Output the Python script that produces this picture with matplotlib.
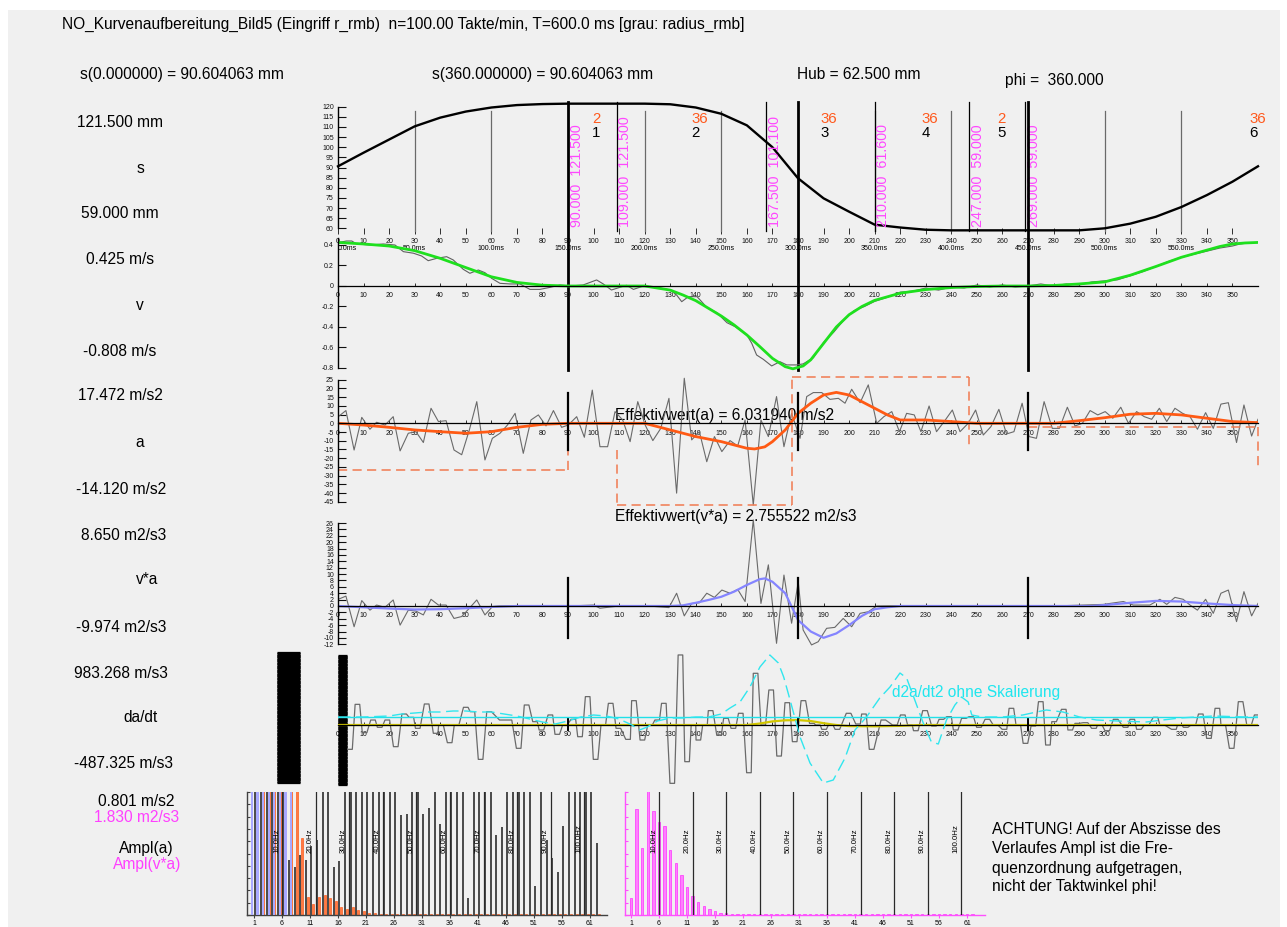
import numpy as np
import matplotlib
matplotlib.use('Agg')
import matplotlib.pyplot as plt
from matplotlib import transforms
from matplotlib.patches import Rectangle

plt.rcParams['font.family'] = ['Liberation Sans', 'DejaVu Sans']

# ---------------------------------------------------------------- data
n_takte = 100.0          # Takte/min
T_ms = 600.0             # ms per cycle

phi_ticks = list(range(0, 360, 10))
ms_phi = list(range(0, 360, 30))

# s (cam stroke)
phi_s = [0, 10, 20, 30, 40, 50, 60, 70, 80, 90, 100, 110, 120, 130, 140, 150, 160, 170, 180,
         190, 200, 210, 220, 230, 240, 250, 260, 270, 280, 290, 300, 310, 320, 330, 340, 350, 360]
s_mm = [90.6, 97.3, 103.8, 110.3, 114.6, 117.6, 119.6, 120.8, 121.3, 121.5, 121.5, 121.5, 121.5,
        121.2, 119.6, 116.5, 110.8, 100.0, 84.7, 74.8, 68.2, 61.8, 60.4, 59.3, 59.0, 59.0, 59.0,
        59.0, 59.0, 59.0, 60.0, 62.3, 65.7, 70.5, 76.4, 83.0, 90.6]

# v smooth (green)
phi_v = [0, 10, 20, 30, 40, 50, 60, 70, 80, 90, 100, 110, 120, 130, 135, 140, 145, 150, 155, 160,
         165, 170, 175, 178, 182, 185, 190, 195, 200, 205, 210, 220, 230, 240, 250, 260, 270, 280,
         290, 300, 310, 320, 330, 340, 345, 350, 355, 360]
v_smooth = [0.425, 0.41, 0.39, 0.345, 0.27, 0.18, 0.09, 0.035, 0.008, 0.0, 0.0, 0.0, 0.0, -0.04,
            -0.088, -0.143, -0.218, -0.293, -0.38, -0.478, -0.59, -0.706, -0.787, -0.808, -0.78,
            -0.72, -0.56, -0.40, -0.28, -0.20, -0.14, -0.07, -0.035, -0.015, -0.005, 0.0, 0.0,
            0.005, 0.02, 0.04, 0.105, 0.19, 0.28, 0.35, 0.385, 0.41, 0.42, 0.425]

# v measured (gray)
phi_vg = [0, 3.3, 5.4, 7.3, 12.5, 17.7, 22.3, 25.6, 29.5, 32.7, 35.3, 38.6, 42.5, 45.1, 49, 51.6,
          54.9, 57.5, 60.1, 63.4, 67.3, 71.2, 75.1, 79, 83, 86.9, 90.8, 95.9, 101.2, 103.8, 107,
          110.3, 112.9, 115.6, 119.5, 124.7, 130, 132.5, 134.5, 137.1, 140.5, 144.3, 148.2, 152.2,
          155.4, 160, 161.9, 163.8, 166.4, 169.7, 172.9, 175.6, 179.5, 182, 186, 190, 194, 198,
          202, 206, 210, 215, 220, 225, 230, 235, 240, 245, 250, 255, 260, 265, 270, 275, 280,
          285, 290, 295, 300, 305, 310, 315, 320, 325, 330, 335, 340, 345, 350, 353, 356, 360]
v_gray = [0.423, 0.439, 0.439, 0.41, 0.40, 0.41, 0.40, 0.335, 0.32, 0.293, 0.247, 0.27, 0.286,
          0.254, 0.163, 0.124, 0.156, 0.13, 0.075, 0.026, 0.02, 0.02, -0.033, -0.033, -0.013, 0.01,
          0.0, 0.01, 0.059, 0.02, -0.039, -0.013, 0.007, -0.033, 0.0, -0.013, -0.039, -0.088,
          -0.153, -0.104, -0.104, -0.208, -0.26, -0.358, -0.397, -0.478, -0.559, -0.673, -0.715,
          -0.78, -0.738, -0.77, -0.77, -0.76, -0.70, -0.55, -0.45, -0.33, -0.24, -0.20, -0.15,
          -0.11, -0.06, -0.05, -0.02, -0.04, -0.01, -0.02, 0.01, -0.01, 0.01, -0.01, 0.0, 0.02,
          0.0, 0.02, 0.01, 0.04, 0.05, 0.06, 0.10, 0.14, 0.19, 0.24, 0.28, 0.31, 0.34, 0.37, 0.39,
          0.41, 0.42, 0.425]

# a measured (gray)
phi_a = [0.1, 3.1, 6.3, 9.3, 12.5, 15.1, 18.4, 21.6, 24.3, 27.5, 30.5, 33.4, 36.4, 39.3, 42.3,
         45.4, 48.4, 51.4, 54.3, 57.5, 60.4, 63.4, 66.3, 69.3, 72.5, 75.5, 78.4, 81.4, 84.3, 87.5,
         90.1, 93.4, 96.4, 99.5, 102.5, 105.5, 108.4, 111.4, 114.3, 117.3, 120.2, 123.2, 126.3,
         129.5, 132.5, 135.5, 138.4, 141.4, 144.3, 147.3, 150.2, 153.4, 156.4, 159.3, 162.5,
         165.5, 168.4, 171.6, 174.5, 177.5, 180.8, 183.4, 186, 189.3, 192.5, 195.8, 198.4, 201,
         204.3, 207.5, 210.8, 213.6, 216.7, 219.7, 222.5, 225.5, 228.1, 231.3, 234.2, 237.2,
         240.4, 243.4, 246.6, 249.5, 252.5, 255.5, 258.6, 261.6, 264.5, 267.7, 270.4, 273.3,
         276.3, 279.5, 282.3, 285.4, 288.4, 291.3, 294.3, 297.3, 300.2, 303.2, 306.3, 309.3,
         312.5, 315.5, 318.4, 321.4, 324.3, 327.5, 330.5, 333.4, 336.3, 339.5, 342.5, 345.5,
         348.4, 351.6, 354.5, 357.5, 360]
a_gray = [3.8, 7.3, -15.3, 3.4, -3.4, 0.6, -1.0, 3.8, -15.8, -5.7, -4.8, -11.0, 8.6, 1.0, 1.5,
          -15.3, -18.0, -3.8, 12.4, -21.0, -8.6, -5.7, -1.0, 5.7, -17.2, 1.9, 4.8, -1.5, 7.3, -2.3,
          -1.0, 3.8, -8.0, 19.0, -13.4, -13.4, 6.7, 1.9, -10.5, 12.4, -1.0, -9.9, -2.9, 14.3,
          -40.0, 25.8, -9.5, -4.8, -22.0, -7.6, -16.2, -9.9, -13.0, 1.9, -46.8, 1.9, -7.6, 15.3,
          -13.4, 5.7, -8.6, 15.3, 17.6, 17.6, 13.7, 14.3, 11.5, 19.5, 11.8, 22.0, 0.0, 3.8, 6.7,
          -4.8, 5.7, 4.8, -4.8, 9.9, -4.8, 1.0, 7.6, -4.8, 0.0, 7.6, -6.7, -1.9, 8.0, -6.1, -4.8,
          11.5, -7.6, -8.6, 12.4, -2.9, -2.9, 9.2, -1.5, 0.0, 7.3, 4.8, 6.7, 2.9, 9.2, 0.0, 6.7,
          3.8, 2.3, 8.6, 1.0, 8.6, 5.7, 3.8, -3.4, 6.1, -2.9, 11.0, 11.8, -11.0, 10.5, -7.3, 2.3]

# a smooth (orange)
phi_af = [0, 10, 20, 30, 40, 50, 60, 70, 80, 90, 100, 110, 120, 130, 140, 150, 160, 163, 167,
          170, 175, 180, 185, 190, 195, 200, 205, 210, 215, 220, 230, 240, 250, 260, 270, 280,
          290, 300, 310, 320, 330, 340, 350, 360]
a_smooth = [0, -1.0, -2.3, -3.8, -4.8, -5.7, -4.8, -2.3, -0.6, 0, 0, 0, 0, -3.8, -7.6, -10.5,
            -14.3, -14.7, -13.5, -10.5, -3.8, 5.7, 11.5, 16.2, 17.7, 16.2, 12.4, 8.6, 4.8, 1.9,
            1.9, 1.0, 0, 0, 0, 0, 1.5, 3.2, 5.2, 5.7, 4.8, 2.9, 1.0, 0.4]

# dashed segment levels in the a panel
a_box_bounds = [0, 90, 109, 177.5, 247, 270, 360]
a_box_levels = [-26.6, -15.5, -47.0, 26.3, -14.5, -2.0]
a_box_drawn = [True, False, True, True, False, True]

# v*a measured (gray)
phi_va = [0.1, 3.1, 6.3, 9.3, 12.5, 15.1, 18.4, 21.6, 24.3, 27.5, 30.5, 33.4, 36.4, 39.3, 42.3,
          45.4, 48.4, 51.4, 54.3, 57.5, 60.4, 63, 70, 80, 90, 100, 102.5, 110, 120, 129.5, 132.5,
          135.5, 138.4, 141.4, 144.3, 147.3, 150.2, 153.4, 156.4, 159.3, 162.5, 165.5, 168.4,
          171.6, 174.5, 177.5, 180.1, 182, 185.3, 187.9, 191.2, 194.4, 197.7, 201, 204.3, 207.5,
          210.8, 220, 240, 260, 280, 299.4, 307.3, 311.2, 317.7, 321.6, 324.3, 327.5, 330.7,
          333.4, 336.3, 339.5, 342.5, 345.5, 348.4, 351.6, 354.5, 357.5, 360]
va_gray = [2.1, 3.1, -6.5, 1.7, -1.3, 0.3, -0.4, 1.9, -6.0, -1.3, -1.6, -2.8, 2.1, 0.3, 0.3,
           -3.9, -3.3, -0.7, 1.9, -2.8, -0.2, 0.0, 0.1, -0.1, 0.0, 0.3, -0.7, 0.0, 0.1, -0.5, 4.0,
           -3.1, 0.8, 1.0, 4.0, 2.7, 5.0, 4.0, 5.2, 1.4, 27.0, 0.8, 12.9, -11.7, 9.7, -5.4, 7.6,
           -7.5, -12.2, -11.2, -7.0, -6.7, -3.9, -6.5, -2.3, -1.8, 0.0, 0.1, 0.0, 0.1, 0.0, 0.5,
           1.4, 0.3, 0.3, 2.1, 0.5, 2.7, 2.1, 0.3, -1.3, 2.1, -2.3, 4.0, 5.0, -4.9, 4.5, -3.1, 0.8]

# v*a smooth (blue)
phi_vaf = [0, 10, 20, 30, 40, 50, 60, 70, 130, 135, 140, 145, 150, 155, 160, 165, 167, 170, 175,
           178, 180, 185, 190, 195, 200, 205, 210, 215, 220, 295, 300, 310, 320, 330, 340, 350, 360]
va_smooth = [0, -0.4, -0.8, -1.1, -1.0, -0.7, -0.3, 0, 0, 0.2, 1.0, 1.9, 2.9, 4.5, 6.6, 8.4, 8.65,
             7.6, 4.0, -1.0, -4.4, -8.0, -9.97, -8.6, -6.0, -3.1, -1.0, -0.4, 0, 0, 0.3, 1.0, 1.6,
             1.4, 0.8, 0.3, 0]

# da/dt measured (gray, held samples)
phi_da = [4.7, 7.6, 10.4, 13.7, 16.3, 19.3, 22.6, 25.9, 28.7, 31.2, 34.7, 38.2, 40.3, 43.7, 46.4,
          50.0, 52.6, 55.8, 59.1, 64.1, 67.1, 70.7, 73.8, 77.1, 79.6, 83.1, 85.8, 88.8, 92.1, 94.7,
          97.7, 100.8, 103.8, 106.7, 109.7, 113.5, 115.8, 119.1, 122.1, 124.9, 127.5, 130.8,
          134.0, 136.6, 139.1, 141.0, 143.6, 145.8, 149.1, 151.8, 154.7, 157.6, 160.8, 163.4,
          166.4, 169.5, 172.6, 175.8, 178.7, 182.1, 185.4, 187.8, 190.2, 192.8, 195.4, 199.8,
          203.5, 205.8, 208.8, 213.4, 217.9, 221, 223.8, 226.1, 229.7, 233.2, 236.1, 239.1, 241.7,
          244.9, 247.8, 250.8, 254.1, 257.3, 260.8, 263.5, 266.2, 269, 272.1, 275, 277.8, 280.2,
          284, 286.5, 289.3, 292.5, 295.8, 298.1, 301, 304.3, 308.2, 310.8, 313.4, 316.4, 319.9,
          322.5, 327.1, 329.4, 331.7, 334.7, 337.6, 340.8, 344.1, 346.4, 349.7, 353.2, 356.5,
          359.5]
da_gray = [-337, 286, -106, 69, -32, 69, -300, 152, 106, -46, 291, -115, 0, -245, 0, 245, 185,
           -476, 185, 69, 69, -323, 277, 46, -69, 139, -129, 0, 79, -162, 393, -476, 0, 300, -46,
           -199, 337, -208, 0, 69, 300, -808, 970, -508, 0, -208, 0, 199, -139, 92, -46, 162,
           -661, 716, 0, 485, -430, 309, -231, 337, 23, 0, -60, 0, -60, 162, 14, 152, -337, 69, 0,
           139, 0, -79, 199, -14, 79, 115, -69, 92, 115, -32, 79, 0, -60, 231, 0, -254, -14, 323,
           -277, 46, 217, -69, 23, 32, -46, 0, -79, 79, -32, 79, -60, 0, 106, 0, -60, 0, -32, 0,
           152, -185, 231, 0, -323, 323, 0, 139]
da_hold = 0.9   # half width (deg) of each held sample plateau

# da/dt smooth (yellow)
phi_y = [0, 160, 165, 170, 175, 180, 185, 190, 195, 200, 210, 220, 228, 360]
da_smooth = [0, 0, 20, 50, 65, 68, 55, 25, 0, -15, -18, -12, 0, 0]

# d2a/dt2 (cyan, unscaled)
phi_d2 = [0, 10, 20, 25, 30, 35, 40, 45, 50, 55, 60, 65, 70, 75, 80, 85, 90, 95, 100, 105, 110,
          115, 118, 121, 125, 130, 135, 140, 145, 150, 153.4, 157.3, 161.2, 165.1, 169, 172.3,
          174.4, 176.9, 180.8, 184.7, 189.9, 193.8, 198.4, 202.3, 206.8, 212, 216, 219.9, 222.5,
          225.7, 229, 232.2, 234.9, 238.1, 241.4, 244, 246.6, 248, 252, 260, 268, 273.3, 277.2,
          283.7, 290.2, 296.8, 305, 316.3, 329.3, 342.4, 355.4, 360]
d2a = [0, 0, 1, 3, 4, 5, 5, 6, 6, 5, 5, 3, 1, -2, -5, -7, -4, 0, 2, 1, -2, -8, -13, -10, -4, -1,
       -1, 0, 0, 3, 9, 15, 30, 50, 62, 54, 40, 17, -20, -46, -66, -63, -41, -13, 0, 19, 30, 44,
       39, 17, -6, -25, -27, -3, 12, 20, 15, 2, 0, 0, 2, 5, 7, 5, 0, -3, -4, -5, -1, 1, 0, 0]

# markers / segments
quarter_phi = [90, 180, 270]
grid30_phi = [30, 60, 120, 150, 210, 240, 300, 330]
seg_bounds = [90, 109, 167.5, 210, 247, 269, 450]
seg_s = [121.5, 121.5, 101.1, 61.6, 59.0, 59.0]
seg_counts = [2, 36, 36, 36, 2, 36]

# order spectra
orders = np.arange(1, 63)
order_ticks = [1, 6, 11, 16, 21, 26, 31, 36, 41, 46, 51, 56, 61]
hz_marks = [10, 20, 30, 40, 50, 60, 70, 80, 90, 100]
blue_orders = np.arange(1, 9)
ampl_blue = [0.9, 0.9, 0.9, 0.9, 0.9, 0.9, 0.9, 0.9]
ampl_gray = [0.9, 0.9, 0.9, 0.9, 0.9, 0.9, 0.36, 0.31, 0.39, 0.36, 0.45, 0.49, 0.9, 0.9, 0.31,
             0.35, 0.9, 0.9, 0.9, 0.9, 0.9, 0.9, 0.9, 0.9, 0.9, 0.9, 0.65, 0.66, 0.9, 0.9, 0.66,
             0.70, 0.9, 0.59, 0.9, 0.9, 0.9, 0.9, 0.11, 0.9, 0.9, 0.9, 0.9, 0.52, 0.57, 0.9, 0.9,
             0.9, 0.9, 0.9, 0.19, 0.9, 0.49, 0.37, 0.28, 0.58, 0.9, 0.9, 0.9, 0.9, 0.9, 0.47]
ampl_a = [0.9, 0.9, 0.9, 0.9, 0.9, 0.9, 0.9, 0.9, 0.50, 0.12, 0.07, 0.12, 0.13, 0.11, 0.09, 0.05,
          0.04, 0.05, 0.03, 0.025, 0.015, 0.01, 0.008, 0.007, 0.006, 0.007, 0.006, 0.008, 0.006,
          0.005, 0.006, 0.005, 0.006, 0.005, 0.006, 0.005, 0.006, 0.005, 0.006, 0.005, 0.005,
          0.006, 0.005, 0.005, 0.006, 0.005, 0.005, 0.005, 0.006, 0.005, 0.005, 0.005, 0.005,
          0.005, 0.005, 0.005, 0.005, 0.005, 0.005, 0.005, 0.005, 0.005]
ampl_va = [0.26, 1.57, 1.0, 2.0, 1.55, 1.39, 1.32, 0.97, 0.77, 0.60, 0.42, 0.29, 0.20, 0.13,
           0.09, 0.055, 0.037, 0.025, 0.02, 0.018, 0.016, 0.015, 0.014, 0.013, 0.012, 0.012,
           0.011, 0.011, 0.011, 0.010, 0.010, 0.010, 0.010, 0.010, 0.010, 0.010, 0.010, 0.010,
           0.010, 0.010, 0.010, 0.010, 0.010, 0.010, 0.010, 0.010, 0.010, 0.010, 0.010, 0.010,
           0.010, 0.010, 0.010, 0.010, 0.010, 0.010, 0.010, 0.010, 0.010, 0.010, 0.010, 0.010]

title = ("NO_Kurvenaufbereitung_Bild5 (Eingriff r_rmb)  n=100.00 Takte/min, "
         "T=600.0 ms [grau: radius_rmb]")
left_labels = [
    (120, 122, '121.500 mm', 'black'), (140, 168, 's', 'black'),
    (120, 213, '59.000 mm', 'black'), (120, 259, '0.425 m/s', 'black'),
    (140, 306, 'v', 'black'), (120, 351, '-0.808 m/s', 'black'),
    (120, 396, '17.472 m/s2', 'black'), (140, 442, 'a', 'black'),
    (121, 489, '-14.120 m/s2', 'black'), (124, 535, '8.650 m2/s3', 'black'),
    (147, 580, 'v*a', 'black'), (121, 627, '-9.974 m2/s3', 'black'),
    (121, 673, '983.268 m/s3', 'black'), (140, 718, 'da/dt', 'black'),
    (123, 764, '-487.325 m/s3', 'black'), (136, 802, '0.801 m/s2', 'black'),
    (137, 818, '1.830 m2/s3', '#ff40ff'), (146, 848, 'Ampl(a)', 'black'),
    (147, 864, 'Ampl(v*a)', '#ff40ff'),
]
achtung = ["ACHTUNG! Auf der Abszisse des", "Verlaufes Ampl ist die Fre-",
           "quenzordnung aufgetragen,", "nicht der Taktwinkel phi!"]

# ---------------------------------------------------------------- figure
W, H = 1287, 927
fig = plt.figure(figsize=(W / 100, H / 100), dpi=100)
fig.patch.set_facecolor('white')


def px_axes(x0, y0, x1, y1, z=1):
    ax = fig.add_axes([x0 / W, 1 - y1 / H, (x1 - x0) / W, (y1 - y0) / H], zorder=z)
    ax.patch.set_alpha(0)
    return ax


ov = px_axes(0, 0, W, H, z=0)
ov.set_xlim(0, W)
ov.set_ylim(H, 0)
ov.axis('off')
ov.add_patch(Rectangle((8, 10), 1272, 917, facecolor='#f0f0f0', edgecolor='none'))

X0, X1 = 338, 1258
BIG = 11.2
TICK = 5.0


def blend(ax):
    return transforms.blended_transform_factory(ax.transData, ov.transData)


def phi_panel(ytop, ybot, zero_px, scale):
    ax = px_axes(X0, ytop, X1, ybot)
    ax.set_xlim(0, 360)
    ax.set_ylim((zero_px - ybot) / scale, (zero_px - ytop) / scale)
    ax.spines['top'].set_visible(False)
    ax.spines['right'].set_visible(False)
    ax.set_xticks(phi_ticks)
    ax.set_xticklabels([str(p) for p in phi_ticks])
    ax.tick_params(axis='x', labelsize=TICK, direction='in', length=2.0, width=0.6,
                   pad=4.6, colors='#111111')
    ax.tick_params(axis='y', labelsize=TICK, direction='in', length=5.8, width=0.8,
                   pad=3, colors='#111111')
    ax.spines['left'].set_linewidth(1.0)
    ax.spines['bottom'].set_position(('data', 0))
    ax.spines['bottom'].set_linewidth(0.9)
    return ax


# ---------------- s panel
ax_s = phi_panel(100, 232, 349.94, 2.027)
ax_s.spines['bottom'].set_position(('data', 58.68))
ax_s.spines['bottom'].set_visible(False)
ax_s.tick_params(axis='x', direction='inout', length=5, pad=2.6)
ax_s.spines['left'].set_bounds(60, 120)
ax_s.set_yticks(list(range(60, 121, 5)))
ax_s.set_yticklabels([str(v) for v in range(60, 121, 5)])
bs = blend(ax_s)
for p in grid30_phi:
    ax_s.plot([p, p], [110.7, 231], transform=bs, color='#6a6a6a', lw=0.9, clip_on=False)
for b in seg_bounds[1:6]:
    ax_s.plot([b, b], [101.7, 231], transform=bs, color='black', lw=0.9, clip_on=False)
ax_s.plot(phi_s, s_mm, color='black', lw=1.7, clip_on=False)
for p in ms_phi:
    ax_s.text(p, 248, f"{p * T_ms / 360:.1f}ms", transform=bs,
              ha='left' if p == 0 else 'center', va='center', fontsize=TICK)
off_r = transforms.ScaledTranslation(1.5 / 100, 0, fig.dpi_scale_trans)
for b, sv in zip(seg_bounds[:6], seg_s):
    ax_s.text(b, 226.5, f"{b:.3f}  {sv:.3f}", transform=bs + off_r, rotation=90, ha='left',
              va='bottom', color='#ff48ff', fontsize=10.3, clip_on=False)
for i in range(6):
    mid = min((seg_bounds[i] + seg_bounds[i + 1]) / 2, 356.5)
    ax_s.text(mid, 119.3, str(seg_counts[i]), transform=bs, ha='left', va='center',
              color='#ff5a1e', fontsize=10.8)
    ax_s.text(mid, 133.3, str(i + 1), transform=bs, ha='left', va='center',
              color='black', fontsize=10.8)
for p in quarter_phi:
    ax_s.plot([p, p], [101.7, 369.5], transform=bs, color='black', lw=2.0, clip_on=False,
              zorder=5)

# ---------------- v panel
ax_v = phi_panel(236, 374, 286, 102.5)
ax_v.spines['left'].set_bounds(-0.8, 0.47)
v_ticks = [0.4, 0.2, 0, -0.2, -0.4, -0.6, -0.8]
ax_v.set_yticks(v_ticks)
ax_v.set_yticklabels(['0.4', '0.2', '0', '-0.2', '-0.4', '-0.6', '-0.8'])
ax_v.plot(phi_vg, v_gray, color='#606060', lw=0.8)
ax_v.plot(phi_v, v_smooth, color='#1ee01e', lw=2.0)

# ---------------- a panel
ax_a = phi_panel(376, 510, 423.3, 1.746)
ax_a.spines['left'].set_bounds(-45, 25)
ax_a.set_yticks(list(range(25, -46, -5)))
ax_a.set_yticklabels([str(v) for v in range(25, -46, -5)])
ax_a.plot(phi_a, a_gray, color='#6a6a6a', lw=0.8)
ax_a.plot(phi_af, a_smooth, color='#ff5a14', lw=2.0)
box_kw = dict(color='#f07a50', lw=1.1, dashes=(6, 3.5), clip_on=False)
for i in range(6):
    if a_box_drawn[i]:
        ax_a.plot([a_box_bounds[i], a_box_bounds[i + 1]], [a_box_levels[i]] * 2, **box_kw)
    nxt = a_box_levels[(i + 1) % 6]
    ax_a.plot([a_box_bounds[i + 1]] * 2, [a_box_levels[i], nxt], **box_kw)
ba = blend(ax_a)
for p in quarter_phi:
    ax_a.plot([p, p], [392.7, 450], transform=ba, color='black', lw=1.6, clip_on=False)

# ---------------- v*a panel
ax_va = phi_panel(512, 650, 606, 3.19)
ax_va.spines['left'].set_bounds(-12, 26)
ax_va.set_yticks(list(range(26, -13, -2)))
ax_va.set_yticklabels([str(v) for v in range(26, -13, -2)])
ax_va.plot(phi_va, va_gray, color='#6a6a6a', lw=0.8)
ax_va.plot(phi_vaf, va_smooth, color='#8484ff', lw=1.6)
bva = blend(ax_va)
for p in quarter_phi:
    ax_va.plot([p, p], [578, 638], transform=bva, color='black', lw=1.6, clip_on=False)

# ---------------- da/dt panel
ax_da = phi_panel(650, 790, 725, 0.0722)
ax_da.spines['left'].set_visible(False)
dense = np.arange(-830, 975, 8)
ax_da.set_yticks(dense)
ax_da.tick_params(axis='y', direction='in', length=6.5, width=0.9, labelleft=False,
                  colors='black')
sec = ax_da.secondary_yaxis(-38 / 920)
sec.set_yticks(np.arange(-800, 1010, 8))
sec.tick_params(axis='y', direction='out', length=16.5, width=0.9, labelleft=False,
                colors='black')
sec.spines['left'].set_visible(False)

ax_d2 = px_axes(X0, 650, X1, 790)
ax_d2.set_xlim(0, 360)
ax_d2.set_ylim(717 - 790, 717 - 650)
ax_d2.axis('off')
ax_d2.axhline(0, color='#20e0e8', lw=1.0)
ax_d2.plot(phi_d2, d2a, color='#30e6ee', lw=1.0, dashes=(9, 4))

# each held sample drawn as a short plateau, neighbours joined by sloped edges
hold_x = np.repeat(phi_da, 2) + np.tile([-da_hold, da_hold], len(phi_da))
hold_y = np.repeat(da_gray, 2)
ax_da.plot(hold_x, hold_y, color='#6a6a6a', lw=0.9)
ax_da.plot(phi_y, da_smooth, color='#d2c600', lw=1.6)
bda = blend(ax_da)
for p in quarter_phi:
    ax_da.plot([p, p], [719, 730], transform=bda, color='black', lw=1.4, clip_on=False)

# ---------------- spectra
ORD_PX = 5.6


def spec_panel(x0, x1, order1_px, top_val, axis_color):
    ax = px_axes(x0, 792, x1, 915)
    ax.set_xlim(1 - (order1_px - x0) / ORD_PX, 1 + (x1 - order1_px) / ORD_PX)
    ax.set_ylim(0, top_val)
    ax.spines['top'].set_visible(False)
    ax.spines['right'].set_visible(False)
    for sp in ('left', 'bottom'):
        ax.spines[sp].set_color(axis_color)
        ax.spines[sp].set_linewidth(1.0)
    ax.set_yticks(np.linspace(0, top_val, 11))
    ax.set_yticklabels([])
    ax.tick_params(axis='y', direction='in', length=2.5, color=axis_color)
    ax.set_xticks(order_ticks)
    ax.set_xticklabels([str(o) for o in order_ticks])
    ax.tick_params(axis='x', direction='out', length=2, labelsize=TICK, pad=1.5,
                   color=axis_color)
    off_l = transforms.ScaledTranslation(-2 / 100, 0, fig.dpi_scale_trans)
    for hz in hz_marks:
        o = hz * 60.0 / n_takte
        ax.axvline(o, color='#2a2a2a', lw=0.9, zorder=5)
        ax.text(o, 853, f"{hz:.1f}Hz", transform=blend(ax) + off_l, rotation=90, ha='right',
                va='bottom', fontsize=5.6, zorder=6)
    return ax


ax_f1 = spec_panel(247, 607, 254, 0.801, '#404040')
ax_f1.bar(orders + 0.6, ampl_a, width=0.34, facecolor='#ff7a44', edgecolor='#ff4800',
          lw=0.4, zorder=2)
ax_f1.bar(blue_orders - 0.4, ampl_blue, width=0.42, color='#a8a8ff', zorder=3)
ax_f1.bar(orders + 0.25, ampl_gray, width=0.36, color='#4d4d4d', zorder=4)

ax_f2 = spec_panel(625, 985, 631, 1.830, '#ff50ff')
ax_f2.bar(orders, ampl_va, width=0.45, facecolor='#ff80ff', edgecolor='#ff30ff', lw=0.5,
          zorder=2)

# ---------------- texts
ov.text(62, 24, title, ha='left', va='center', fontsize=BIG)
ov.text(80, 74, 's(0.000000) = 90.604063 mm', ha='left', va='center', fontsize=BIG)
ov.text(432, 74, 's(360.000000) = 90.604063 mm', ha='left', va='center', fontsize=BIG)
ov.text(797, 74, 'Hub = 62.500 mm', ha='left', va='center', fontsize=BIG)
ov.text(1005, 80, 'phi =  360.000', ha='left', va='center', fontsize=BIG)
for x, y, t, c in left_labels:
    ov.text(x, y, t, ha='center', va='center', fontsize=BIG, color=c)
ov.text(615, 415, 'Effektivwert(a) = 6.031940 m/s2', ha='left', va='center', fontsize=BIG,
        zorder=6)
ov.text(615, 517, 'Effektivwert(v*a) = 2.755522 m2/s3', ha='left', va='center', fontsize=BIG,
        zorder=6)
ov.text(892, 692, 'd2a/dt2 ohne Skalierung', ha='left', va='center', fontsize=BIG,
        color='#20e6ee')
for i, line in enumerate(achtung):
    ov.text(992, 830 + 19 * i, line, ha='left', va='center', fontsize=BIG)

fig.savefig('out.png', dpi=100, facecolor=fig.get_facecolor())
